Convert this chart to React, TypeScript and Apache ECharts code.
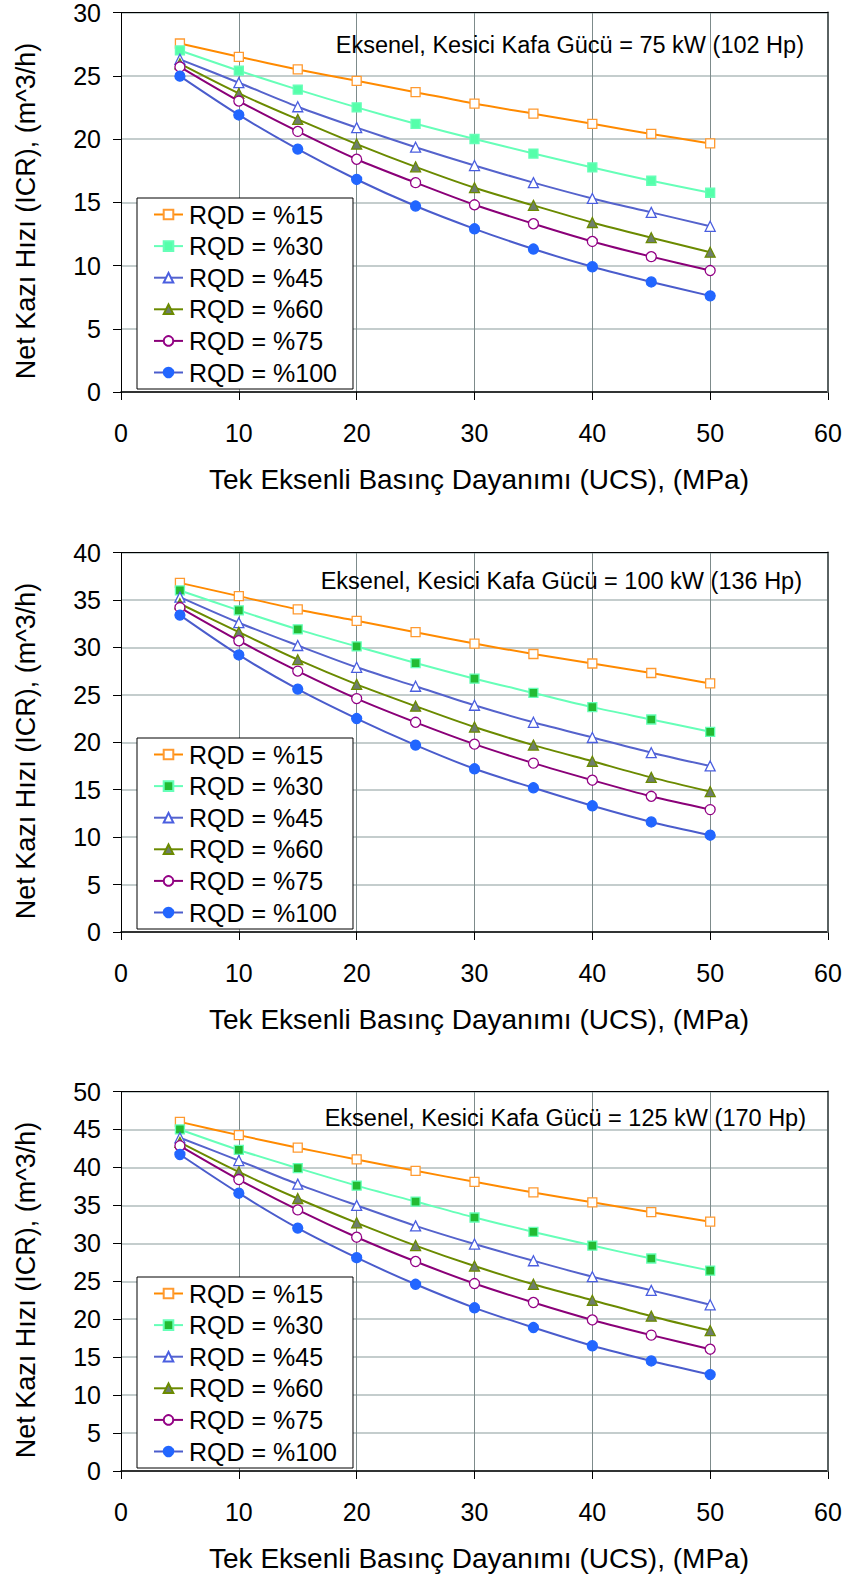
import React, { useEffect, useRef } from "react";
import * as echarts from "echarts";

const FONT = "'Liberation Sans', Arial, Helvetica, sans-serif";

const ucs = [5, 10, 15, 20, 25, 30, 35, 40, 45, 50];
const seriesNames = ["RQD = %15", "RQD = %30", "RQD = %45", "RQD = %60", "RQD = %75", "RQD = %100"];
const xTitle = "Tek Eksenli Basınç Dayanımı (UCS), (MPa)";
const yTitle = "Net Kazı Hızı (ICR), (m^3/h)";

// Chart 1: 75 kW
const c1Title = "Eksenel, Kesici Kafa Gücü = 75 kW (102 Hp)";
const c1Max = 30;
const c1Rqd15 = [27.55, 26.5, 25.5, 24.6, 23.7, 22.8, 22.0, 21.2, 20.4, 19.65];
const c1Rqd30 = [27.0, 25.4, 23.9, 22.5, 21.2, 20.0, 18.85, 17.75, 16.7, 15.75];
const c1Rqd45 = [26.3, 24.45, 22.55, 20.9, 19.35, 17.9, 16.55, 15.3, 14.2, 13.1];
const c1Rqd60 = [25.95, 23.6, 21.55, 19.6, 17.8, 16.15, 14.75, 13.4, 12.2, 11.05];
const c1Rqd75 = [25.7, 23.0, 20.6, 18.4, 16.55, 14.8, 13.3, 11.9, 10.7, 9.6];
const c1Rqd100 = [24.97, 21.9, 19.2, 16.8, 14.7, 12.9, 11.3, 9.9, 8.7, 7.6];

// Chart 2: 100 kW
const c2Title = "Eksenel, Kesici Kafa Gücü = 100 kW (136 Hp)";
const c2Max = 40;
const c2Rqd15 = [36.8, 35.4, 34.0, 32.8, 31.6, 30.4, 29.3, 28.3, 27.3, 26.2];
const c2Rqd30 = [36.0, 33.9, 31.9, 30.1, 28.35, 26.7, 25.2, 23.7, 22.4, 21.1];
const c2Rqd45 = [35.3, 32.6, 30.2, 27.9, 25.9, 23.9, 22.1, 20.5, 18.9, 17.5];
const c2Rqd60 = [34.6, 31.6, 28.7, 26.1, 23.8, 21.6, 19.7, 18.0, 16.3, 14.8];
const c2Rqd75 = [34.2, 30.7, 27.5, 24.6, 22.1, 19.8, 17.8, 16.0, 14.3, 12.9];
const c2Rqd100 = [33.4, 29.2, 25.6, 22.5, 19.7, 17.2, 15.2, 13.3, 11.6, 10.2];

// Chart 3: 125 kW
const c3Title = "Eksenel, Kesici Kafa Gücü = 125 kW (170 Hp)";
const c3Max = 50;
const c3Rqd15 = [46.0, 44.25, 42.6, 41.05, 39.55, 38.1, 36.7, 35.4, 34.1, 32.85];
const c3Rqd30 = [45.0, 42.3, 39.9, 37.6, 35.5, 33.4, 31.5, 29.7, 28.0, 26.4];
const c3Rqd45 = [43.9, 40.9, 37.8, 35.0, 32.3, 29.9, 27.7, 25.6, 23.8, 21.9];
const c3Rqd60 = [43.3, 39.4, 35.9, 32.7, 29.7, 27.0, 24.6, 22.5, 20.4, 18.5];
const c3Rqd75 = [42.85, 38.4, 34.4, 30.8, 27.6, 24.7, 22.2, 19.9, 17.9, 16.05];
const c3Rqd100 = [41.7, 36.6, 32.0, 28.1, 24.6, 21.5, 18.9, 16.5, 14.5, 12.7];

type Cfg = {
  title: string;
  titleY: number;
  titleRight: number;
  yMax: number;
  values: number[][];
  greenFill: string;
};

function makeStyles(greenFill: string) {
  return [
    { symbol: "rect", size: 9, line: "#ff8a00", fill: "#ffffff", border: "#ff9a30" },
    { symbol: "rect", size: 9, line: "#66ffb8", fill: greenFill, border: "#66ffb8" },
    { symbol: "triangle", size: 10, line: "#5563cc", fill: "#ffffff", border: "#4a5ee0" },
    { symbol: "triangle", size: 10, line: "#6b8a00", fill: "#6e7e6e", border: "#6b8a00" },
    { symbol: "circle", size: 10, line: "#8a0078", fill: "#ffffff", border: "#930085" },
    { symbol: "circle", size: 10, line: "#4a5ccc", fill: "#2266ff", border: "#2266ff" },
  ];
}

function makeOption(cfg: Cfg) {
  const styles = makeStyles(cfg.greenFill);
  const series = cfg.values.map((vals, i) => ({
    name: seriesNames[i],
    type: "line",
    xAxisIndex: 0,
    yAxisIndex: 0,
    smooth: 0.3,
    symbol: styles[i].symbol,
    symbolSize: styles[i].size,
    showAllSymbol: true,
    lineStyle: { color: styles[i].line, width: 2 },
    itemStyle: { color: styles[i].fill, borderColor: styles[i].border, borderWidth: 1.3 },
    data: vals.map((v, j) => [ucs[j], v]),
    z: 2 + i * 0.01,
  }));
  return {
    animation: false,
    backgroundColor: "#ffffff",
    textStyle: { fontFamily: FONT },
    grid: { left: 121, top: 12, width: 707, height: 380, containLabel: false },
    xAxis: [
      {
        type: "value",
        min: 0,
        max: 60,
        interval: 10,
        position: "bottom",
        axisLine: { show: true, lineStyle: { color: "#000", width: 1.5 } },
        axisTick: { show: true, length: 8, lineStyle: { color: "#000", width: 1 } },
        axisLabel: { fontSize: 25, color: "#000", margin: 28, fontFamily: FONT },
        splitLine: { show: true, lineStyle: { color: "#7d8b8b", width: 1 } },
      },
      {
        type: "value",
        min: 0,
        max: 60,
        interval: 10,
        position: "top",
        z: 5,
        axisLine: { show: true, onZero: false, lineStyle: { color: "#000", width: 1 } },
        axisTick: { show: false },
        axisLabel: { show: false },
        splitLine: { show: false },
      },
    ],
    yAxis: [
      {
        type: "value",
        min: 0,
        max: cfg.yMax,
        interval: 5,
        position: "left",
        axisLine: { show: true, onZero: false, lineStyle: { color: "#000", width: 1 } },
        axisTick: { show: true, length: 8, lineStyle: { color: "#000", width: 1 } },
        axisLabel: { fontSize: 25, color: "#000", margin: 20, fontFamily: FONT },
        splitLine: { show: true, lineStyle: { color: "#b0bcbc", width: 1.5 } },
      },
      {
        type: "value",
        min: 0,
        max: cfg.yMax,
        interval: 5,
        position: "right",
        z: 5,
        axisLine: { show: true, onZero: false, lineStyle: { color: "#5a6262", width: 2 } },
        axisTick: { show: false },
        axisLabel: { show: false },
        splitLine: { show: false },
      },
    ],
    legend: {
      orient: "vertical",
      left: 137,
      top: 198,
      padding: [4, 16, 4, 16],
      backgroundColor: "#ffffff",
      borderColor: "#000",
      borderWidth: 1,
      borderRadius: 0,
      itemWidth: 29,
      itemHeight: 12,
      itemGap: 6.6,
      z: 10,
      data: seriesNames,
      textStyle: { fontSize: 25, color: "#000", fontFamily: FONT, lineHeight: 24, padding: [0, 0, 0, 1] },
    },
    graphic: [
      {
        type: "text",
        x: cfg.titleRight,
        y: cfg.titleY,
        z: 20,
        style: {
          text: cfg.title,
          align: "right",
          verticalAlign: "middle",
          font: `23.5px ${FONT}`,
          fill: "#000",
        },
      },
      {
        type: "text",
        x: 26,
        y: 211,
        rotation: Math.PI / 2,
        z: 20,
        style: {
          text: yTitle,
          align: "center",
          verticalAlign: "middle",
          font: `27px ${FONT}`,
          fill: "#000",
        },
      },
      {
        type: "text",
        x: 479,
        y: 479,
        z: 20,
        style: {
          text: xTitle,
          align: "center",
          verticalAlign: "middle",
          font: `28px ${FONT}`,
          fill: "#000",
        },
      },
    ],
    series,
  };
}

function Chart({ cfg, height }: { cfg: Cfg; height: number }) {
  const ref = useRef<HTMLDivElement>(null);
  useEffect(() => {
    if (!ref.current) return;
    const chart = echarts.init(ref.current, null, { renderer: "svg" });
    chart.setOption(makeOption(cfg) as any);
    return () => chart.dispose();
  }, []);
  return <div ref={ref} style={{ width: 845, height }} />;
}

const cfg1: Cfg = {
  title: c1Title,
  titleY: 45,
  titleRight: 804,
  yMax: c1Max,
  values: [c1Rqd15, c1Rqd30, c1Rqd45, c1Rqd60, c1Rqd75, c1Rqd100],
  greenFill: "#55ffaa",
};
const cfg2: Cfg = {
  title: c2Title,
  titleY: 41,
  titleRight: 802,
  yMax: c2Max,
  values: [c2Rqd15, c2Rqd30, c2Rqd45, c2Rqd60, c2Rqd75, c2Rqd100],
  greenFill: "#22bb33",
};
const cfg3: Cfg = {
  title: c3Title,
  titleY: 38.5,
  titleRight: 806,
  yMax: c3Max,
  values: [c3Rqd15, c3Rqd30, c3Rqd45, c3Rqd60, c3Rqd75, c3Rqd100],
  greenFill: "#22bb33",
};

export default function App() {
  return (
    <div style={{ position: "absolute", left: 0, top: 0, width: 845, height: 1577, background: "#fff" }}>
      <Chart cfg={cfg1} height={540} />
      <Chart cfg={cfg2} height={539} />
      <Chart cfg={cfg3} height={498} />
    </div>
  );
}
